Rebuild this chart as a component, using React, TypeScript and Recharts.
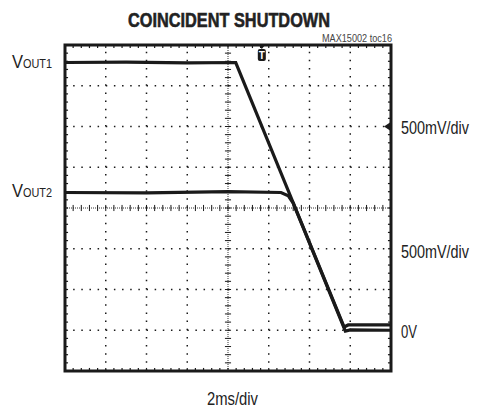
import React from "react"
import {
  LineChart,
  Line,
  XAxis,
  YAxis,
  ReferenceLine,
  ReferenceArea,
  ReferenceDot,
} from "recharts"

// time in divisions (2ms/div), level in divisions (500mV/div)
const vout1 = [
  { t: 0, v: 7.57 },
  { t: 1.5, v: 7.58 },
  { t: 3, v: 7.56 },
  { t: 4.19, v: 7.57 },
  { t: 6.85, v: 1.08 },
  { t: 6.95, v: 1.13 },
  { t: 8, v: 1.13 },
]

const vout2 = [
  { t: 0, v: 4.38 },
  { t: 2, v: 4.37 },
  { t: 4, v: 4.4 },
  { t: 5.3, v: 4.38 },
  { t: 5.48, v: 4.3 },
  { t: 5.6, v: 4.12 },
  { t: 6.88, v: 0.98 },
  { t: 7, v: 1.01 },
  { t: 8, v: 1.0 },
]

const divTicks = [0, 1, 2, 3, 4, 5, 6, 7, 8]
const gridDivs = [1, 2, 3, 5, 6, 7]
const minorTicks = Array.from({ length: 39 }, (_, i) => Math.round((i + 1) * 2) / 10)

const triggerT = 4.83
const levelMarker = 6

const FONT = "'Liberation Sans', Arial, sans-serif"
const INK = "#1a1a1a"

function TriggerShape(props: any) {
  const { cx, cy } = props
  return (
    <g>
      <path d={`M${cx - 4},${cy - 1} L${cx + 4},${cy - 1} L${cx},${cy + 4} Z`} fill={INK} />
      <rect x={cx - 4} y={cy + 4} width={8} height={12} rx={2} fill={INK} />
      <text x={cx} y={cy + 14} textAnchor="middle" fontSize={10} fontWeight="bold" fill="#fff" fontFamily={FONT}>
        T
      </text>
    </g>
  )
}

function ArrowShape(props: any) {
  const { cx, cy } = props
  return <path d={`M${cx - 7},${cy} L${cx - 1},${cy - 4} L${cx - 1},${cy + 4} Z`} fill={INK} />
}

export default function App() {
  const tick = 0.075
  return (
    <div style={{ position: "absolute", left: 0, top: 0, width: 477, height: 408, background: "#fff" }}>
      <LineChart
        width={477}
        height={408}
        margin={{ top: 45, right: 86, bottom: 37, left: 65 }}
      >
        <XAxis dataKey="t" type="number" domain={[0, 8]} ticks={divTicks} hide allowDataOverflow />
        <YAxis type="number" domain={[0, 8]} ticks={divTicks} hide allowDataOverflow />

        {gridDivs.map((d) => (
          <ReferenceLine key={`gx${d}`} x={d} stroke={INK} strokeWidth={1.5} strokeDasharray="1.5 6.65" />
        ))}
        {gridDivs.map((d) => (
          <ReferenceLine key={`gy${d}`} y={d} stroke={INK} strokeWidth={1.5} strokeDasharray="1.5 6.65" />
        ))}
        <ReferenceLine x={4} stroke="#333" strokeWidth={1} strokeDasharray="1 1" />
        <ReferenceLine y={4} stroke="#333" strokeWidth={1} strokeDasharray="1 1" />

        {minorTicks.map((p) => (
          <ReferenceLine key={`cx${p}`} segment={[{ x: p, y: 4 - tick }, { x: p, y: 4 + tick }]} stroke={INK} strokeWidth={1} />
        ))}
        {minorTicks.map((p) => (
          <ReferenceLine key={`cy${p}`} segment={[{ x: 4 - tick, y: p }, { x: 4 + tick, y: p }]} stroke={INK} strokeWidth={1} />
        ))}
        {minorTicks.map((p) => (
          <ReferenceLine key={`tp${p}`} segment={[{ x: p, y: 8 }, { x: p, y: 8 - tick }]} stroke={INK} strokeWidth={1.2} />
        ))}
        {minorTicks.map((p) => (
          <ReferenceLine key={`bt${p}`} segment={[{ x: p, y: 0 }, { x: p, y: tick }]} stroke={INK} strokeWidth={1.2} />
        ))}
        {minorTicks.map((p) => (
          <ReferenceLine key={`lf${p}`} segment={[{ x: 0, y: p }, { x: tick, y: p }]} stroke={INK} strokeWidth={1.2} />
        ))}
        {minorTicks.map((p) => (
          <ReferenceLine key={`rt${p}`} segment={[{ x: 8, y: p }, { x: 8 - tick, y: p }]} stroke={INK} strokeWidth={1.2} />
        ))}

        <Line data={vout1} dataKey="v" type="linear" stroke={INK} strokeWidth={3.2} dot={false} isAnimationActive={false} />
        <Line data={vout2} dataKey="v" type="linear" stroke={INK} strokeWidth={3.2} dot={false} isAnimationActive={false} />

        <ReferenceArea x1={0} x2={8} y1={0} y2={8} fill="none" stroke={INK} strokeWidth={3} ifOverflow="visible" />
        <ReferenceDot x={triggerT} y={8} r={4} shape={TriggerShape} ifOverflow="visible" />
        <ReferenceDot x={8} y={levelMarker} r={4} shape={ArrowShape} ifOverflow="visible" />
      </LineChart>

      <svg width={477} height={408} style={{ position: "absolute", left: 0, top: 0, pointerEvents: "none" }}>
        <g fontFamily={FONT} fill="#222">
          <text x={128} y={27} fontSize={21} fontWeight="bold" textLength={202} lengthAdjust="spacingAndGlyphs" stroke="#222" strokeWidth={0.6}>
            COINCIDENT SHUTDOWN
          </text>
          <text x={322} y={42} fontSize={11} fill="#444" textLength={70} lengthAdjust="spacingAndGlyphs">
            MAX15002 toc16
          </text>
          <text x={12} y={68} fontSize={19} textLength={40} lengthAdjust="spacingAndGlyphs">
            V<tspan fontSize={12.5}>OUT1</tspan>
          </text>
          <text x={12} y={197} fontSize={19} textLength={40} lengthAdjust="spacingAndGlyphs">
            V<tspan fontSize={12.5}>OUT2</tspan>
          </text>
          <text x={401} y={134} fontSize={18} textLength={68} lengthAdjust="spacingAndGlyphs">500mV/div</text>
          <text x={401} y={258} fontSize={18} textLength={68} lengthAdjust="spacingAndGlyphs">500mV/div</text>
          <text x={401} y={338} fontSize={18} textLength={16} lengthAdjust="spacingAndGlyphs">0V</text>
          <text x={207} y={405} fontSize={18} textLength={51} lengthAdjust="spacingAndGlyphs">2ms/div</text>
        </g>
      </svg>
    </div>
  )
}
